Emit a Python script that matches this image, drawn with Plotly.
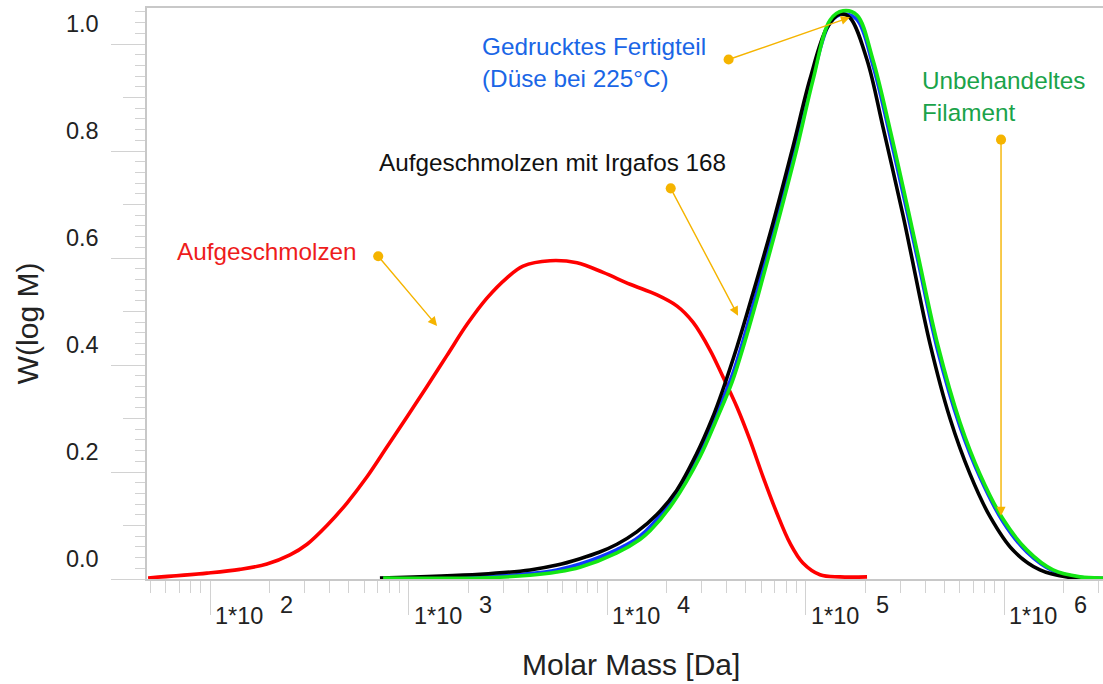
import numpy as np
import plotly.graph_objects as go

# ---------------- data (log10 of molar mass, W(log M)) ----------------
red_logM = [1.688, 1.985, 2.151, 2.287, 2.403, 2.489, 2.589, 2.690, 2.791, 2.892, 2.992,
            3.093, 3.194, 3.295, 3.395, 3.496, 3.577, 3.713, 3.849, 3.980, 4.116, 4.252,
            4.353, 4.433, 4.519, 4.584, 4.655, 4.720, 4.786, 4.856, 4.922, 4.987, 5.073,
            5.174, 5.310]
red_W = [0.002, 0.011, 0.018, 0.028, 0.045, 0.065, 0.100, 0.142, 0.191, 0.247, 0.303,
         0.360, 0.418, 0.476, 0.525, 0.563, 0.585, 0.595, 0.591, 0.573, 0.551, 0.531,
         0.510, 0.480, 0.428, 0.378, 0.321, 0.260, 0.191, 0.123, 0.067, 0.030, 0.008,
         0.004, 0.004]

black_logM = [2.856, 3.360, 3.612, 3.748, 3.864, 3.960, 4.050, 4.150, 4.250, 4.350, 4.450,
              4.530, 4.580, 4.655, 4.736, 4.836, 4.937, 5.023, 5.108, 5.174, 5.224, 5.310,
              5.390, 5.491, 5.526, 5.627, 5.728, 5.829, 5.929, 6.045, 6.181, 6.317, 6.499]
black_W = [0.002, 0.009, 0.017, 0.026, 0.038, 0.050, 0.065, 0.088, 0.120, 0.165, 0.233,
           0.300, 0.350, 0.434, 0.535, 0.665, 0.808, 0.935, 1.030, 1.056, 1.049, 0.970,
           0.845, 0.680, 0.618, 0.440, 0.300, 0.196, 0.117, 0.054, 0.017, 0.004, 0.001]

green_logM = [2.872, 3.360, 3.612, 3.748, 3.864, 4.050, 4.166, 4.217, 4.332, 4.468, 4.554,
              4.630, 4.685, 4.761, 4.856, 4.957, 5.038, 5.124, 5.189, 5.259, 5.340, 5.426,
              5.511, 5.567, 5.668, 5.778, 5.879, 5.995, 6.116, 6.247, 6.383, 6.499]
green_W = [0.002, 0.002, 0.007, 0.013, 0.022, 0.049, 0.074, 0.090, 0.142, 0.228, 0.300,
           0.368, 0.432, 0.530, 0.660, 0.805, 0.933, 1.045, 1.062, 1.054, 0.970, 0.840,
           0.700, 0.605, 0.435, 0.293, 0.196, 0.112, 0.054, 0.017, 0.004, 0.002]

blue_logM = [2.872, 3.360, 3.612, 3.748, 3.864, 4.050, 4.166, 4.332, 4.468, 4.554, 4.630,
             4.685, 4.761, 4.856, 4.957, 5.038, 5.124, 5.189, 5.259, 5.340, 5.426, 5.511,
             5.567, 5.668, 5.778, 5.879, 5.995, 6.116, 6.247, 6.383, 6.499]
blue_W = [0.002, 0.004, 0.010, 0.017, 0.028, 0.055, 0.080, 0.150, 0.238, 0.310, 0.380,
          0.445, 0.546, 0.675, 0.818, 0.940, 1.040, 1.056, 1.046, 0.960, 0.828, 0.688,
          0.594, 0.424, 0.285, 0.190, 0.107, 0.050, 0.015, 0.003, 0.001]

tick_exponents = [2, 3, 4, 5, 6]
tick_base_text = "1*10"
minor_multipliers = [2, 3, 4, 5, 6, 7, 8, 9]

x_title = "Molar Mass [Da]"
y_title = "W(log M)"

label_texts = ["Gedrucktes Fertigteil<br>(Düse bei 225°C)",
               "Unbehandeltes<br>Filament",
               "Aufgeschmolzen mit Irgafos 168",
               "Aufgeschmolzen"]
label_colors = ["#1a66e6", "#1aa34a", "#111111", "#ee1c1c"]

FONT = "Liberation Sans, Arial, sans-serif"
TICKC = "#d2d2d2"
ARROWC = "#f5b400"
TXT = "#222222"

fig = go.Figure()
series = [
    (red_logM, red_W, "#ff0000", "Aufgeschmolzen"),
    (blue_logM, blue_W, "#1038ff", "Gedrucktes Fertigteil"),
    (black_logM, black_W, "#000000", "Aufgeschmolzen mit Irgafos 168"),
    (green_logM, green_W, "#14e614", "Unbehandeltes Filament"),
]
for lm, w, col, nm in series:
    fig.add_trace(go.Scatter(
        x=np.power(10.0, np.array(lm)), y=w, mode="lines", name=nm,
        line=dict(color=col, width=3.6, shape="spline", smoothing=1.0),
        showlegend=False, hoverinfo="skip"))

# helper axis for the medium-length y ticks
fig.add_trace(go.Scatter(x=[], y=[], yaxis="y2", showlegend=False))

xr = [1.6826, 6.4987]
yr = [0.0, 1.0673]

minor_vals = [m * 10.0 ** e for e in range(1, 7) for m in minor_multipliers]

fig.update_layout(
    width=1103, height=684,
    margin=dict(l=147, r=0, t=8, b=105),
    paper_bgcolor="white", plot_bgcolor="white",
    font=dict(family=FONT, color=TXT),
    xaxis=dict(
        type="log", range=xr, showgrid=False, zeroline=False,
        showline=True, linecolor="#c8c8c8", linewidth=1.5, mirror=True,
        ticks="outside", ticklen=34, tickcolor=TICKC, tickwidth=1,
        tickvals=[10.0 ** e for e in tick_exponents], showticklabels=False,
        minor=dict(tickvals=minor_vals, ticks="outside", ticklen=12,
                   tickcolor=TICKC, tickwidth=1),
    ),
    yaxis=dict(
        range=yr, showgrid=False, zeroline=False,
        showline=True, linecolor="#c8c8c8", linewidth=1.5,
        ticks="outside", ticklen=34, tickcolor=TICKC, tickwidth=1,
        tick0=0, dtick=0.2, tickformat=".1f",
        tickfont=dict(size=23.5, color=TXT),
        ticklabelshift=-20, ticklabelstandoff=8,
        minor=dict(dtick=0.02, ticks="outside", ticklen=10,
                   tickcolor=TICKC, tickwidth=1),
    ),
    yaxis2=dict(
        overlaying="y", anchor="x", side="left", range=yr,
        showgrid=False, zeroline=False, showline=False,
        ticks="outside", ticklen=23, tickcolor=TICKC, tickwidth=1,
        tick0=0.1, dtick=0.2, showticklabels=False,
    ),
)

annotations = []
# axis titles
annotations.append(dict(x=0.5063, y=-0.1506, xref="paper", yref="paper", text=x_title,
                        showarrow=False, xanchor="center", yanchor="middle",
                        font=dict(size=30, color=TXT)))
annotations.append(dict(x=-0.1255, y=0.448, xref="paper", yref="paper", text=y_title,
                        showarrow=False, xanchor="center", yanchor="middle",
                        textangle=-90, font=dict(size=30, color=TXT)))

# x tick labels: "1*10" with raised exponent
for e in tick_exponents:
    annotations.append(dict(x=e, y=0, xref="x", yref="paper", text=tick_base_text,
                            showarrow=False, xanchor="left", yanchor="middle",
                            xshift=3, yshift=-37,
                            font=dict(size=23.5, color=TXT)))
    annotations.append(dict(x=e, y=0, xref="x", yref="paper", text=str(e),
                            showarrow=False, xanchor="left", yanchor="middle",
                            xshift=68, yshift=-26,
                            font=dict(size=23.5, color=TXT)))

# curve labels (left edge, vertical centre) in data coordinates
label_pos = [(3.360, 0.965), (5.578, 0.902), (2.842, 0.779), (1.825, 0.613)]
for (lx, ly), txt, col in zip(label_pos, label_texts, label_colors):
    annotations.append(dict(x=lx, y=ly, xref="x", yref="y", text=txt, align="left",
                            showarrow=False, xanchor="left", yanchor="middle",
                            font=dict(size=24.3, color=col)))

# pointer arrows: (tail dot) -> (head)
arrows = [((4.605, 0.970), (5.224, 1.050)),
          ((5.985, 0.824), (5.985, 0.118)),
          ((4.317, 0.733), (4.660, 0.492)),
          ((2.841, 0.606), (3.144, 0.473))]
for (tx, ty), (hx, hy) in arrows:
    annotations.append(dict(x=hx, y=hy, ax=tx, ay=ty, xref="x", yref="y",
                            axref="x", ayref="y", text="", showarrow=True,
                            arrowhead=2, arrowsize=1.3, arrowwidth=1.4,
                            arrowcolor=ARROWC, arrowside="end+start",
                            startarrowhead=6, startarrowsize=1.8))

fig.update_layout(annotations=annotations)
fig.write_html("out.html")
